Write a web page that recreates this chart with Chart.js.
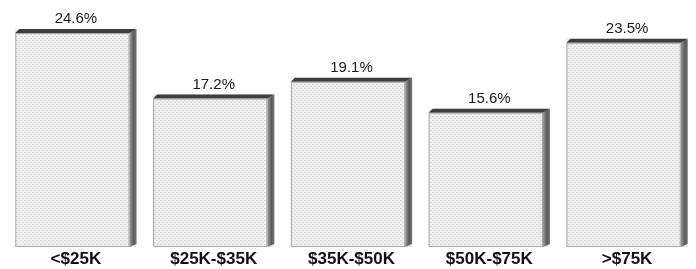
<!DOCTYPE html>
<html>
<head>
<meta charset="utf-8">
<script src="https://cdn.jsdelivr.net/npm/chart.js@4"></script>
<style>
  html, body { margin: 0; padding: 0; background: #ffffff; }
  #wrap { width: 696px; height: 269px; }
</style>
</head>
<body>
<div id="wrap"><canvas id="incomeChart" width="696" height="269"></canvas></div>
<script>
// income brackets and share of households (%)
const incomeLabels = ['<$25K', '$25K-$35K', '$35K-$50K', '$50K-$75K', '>$75K'];
const shareValues = [24.6, 17.2, 19.1, 15.6, 23.5];

// dotted halftone fill like the printed bars
function makeDots() {
    const c = document.createElement('canvas');
    c.width = 4; c.height = 4;
    const g = c.getContext('2d');
    g.fillStyle = '#f0f0f0';
    g.fillRect(0, 0, 4, 4);
    g.fillStyle = '#d2d2d2';
    g.fillRect(0, 0, 1, 1);
    g.fillRect(2, 2, 1, 1);
    g.fillStyle = '#e0e0e0';
    g.fillRect(1, 0, 1, 1);
    g.fillRect(3, 2, 1, 1);
    return g.createPattern(c, 'repeat');
}

const ctx = document.getElementById('incomeChart').getContext('2d');

// right side + top edge of the "3d" boxes, and the value labels
const boxEdges = {
    id: 'boxEdges',
    afterDatasetsDraw(chart) {
        const c = chart.ctx;
        const meta = chart.getDatasetMeta(0);
        meta.data.forEach((bar, i) => {
            const w = bar.width;
            const left = bar.x - w / 2;
            const right = bar.x + w / 2;
            const top = bar.y;
            const bottom = bar.base;
            c.save();
            // side shadow
            const grad = c.createLinearGradient(right - 7, 0, right, 0);
            grad.addColorStop(0, '#9a9a9a');
            grad.addColorStop(0.6, '#5a5a5a');
            grad.addColorStop(1, '#777777');
            c.fillStyle = grad;
            c.beginPath();
            c.moveTo(right - 7, top + 4);
            c.lineTo(right, top);
            c.lineTo(right, bottom - 3);
            c.lineTo(right - 7, bottom);
            c.closePath();
            c.fill();
            // top edge
            c.fillStyle = '#3e3e3e';
            c.beginPath();
            c.moveTo(left, top + 4);
            c.lineTo(left + 4, top);
            c.lineTo(right, top);
            c.lineTo(right - 7, top + 4);
            c.closePath();
            c.fill();
            // thin outline of front face
            c.strokeStyle = '#a8a8a8';
            c.lineWidth = 1;
            c.strokeRect(left + 0.5, top + 4.5, w - 8, bottom - top - 5);
            // value label
            c.fillStyle = '#1a1a1a';
            c.font = '15px "Liberation Sans", Arial, sans-serif';
            c.textAlign = 'center';
            c.textBaseline = 'alphabetic';
            c.fillText(shareValues[i].toFixed(1) + '%', bar.x, top - 6);
            c.restore();
        });
    }
};

new Chart(ctx, {
    type: 'bar',
    data: {
        labels: incomeLabels,
        datasets: [{
            data: shareValues,
            backgroundColor: makeDots(),
            borderWidth: 0,
            barPercentage: 0.88,
            categoryPercentage: 1.0
        }]
    },
    options: {
        responsive: false,
        animation: false,
        layout: {
            padding: { left: 7, right: 0, top: 6, bottom: 0 }
        },
        plugins: {
            legend: { display: false },
            tooltip: { enabled: false }
        },
        scales: {
            x: {
                grid: { display: false, drawTicks: false },
                border: { display: false },
                afterFit(scale) { scale.height = 22; },
                ticks: {
                    color: '#111111',
                    padding: 4,
                    font: { size: 17, weight: 'bold', lineHeight: 1, family: '"Liberation Sans", Arial, sans-serif' }
                }
            },
            y: {
                display: false,
                min: 0,
                max: 27.2
            }
        }
    },
    plugins: [boxEdges]
});
</script>
</body>
</html>
